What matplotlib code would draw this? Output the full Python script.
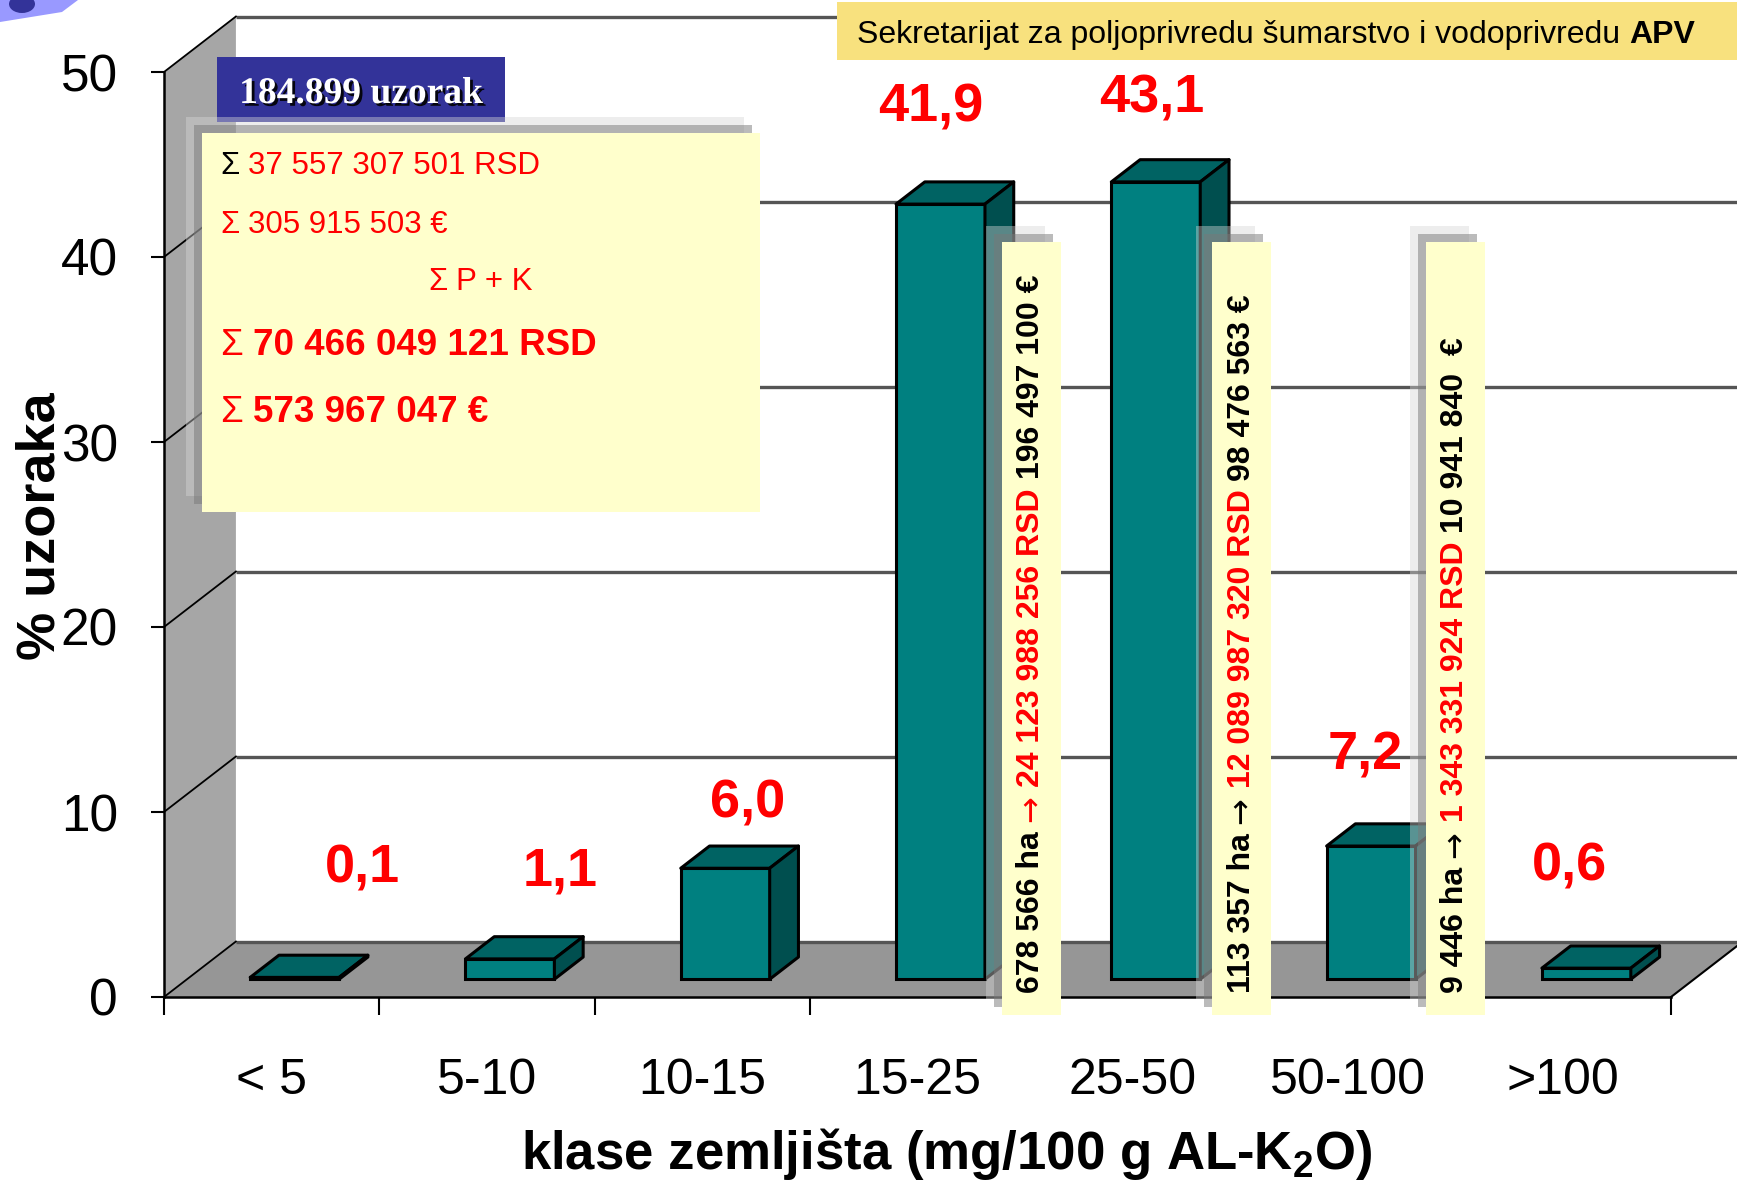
import numpy as np
import matplotlib.pyplot as plt
from matplotlib.patches import Polygon, Rectangle, Ellipse
from matplotlib.transforms import Affine2D, offset_copy
import matplotlib.patheffects as pe

plt.rcParams['font.family'] = ['Liberation Sans', 'DejaVu Sans']
plt.rcParams['mathtext.fontset'] = 'custom'
plt.rcParams['mathtext.rm'] = 'Liberation Sans:bold'
plt.rcParams['mathtext.default'] = 'rm'

# soil classes and share of samples (%)
categories = ['< 5', '5-10', '10-15', '15-25', '25-50', '50-100', '>100']
values = [0.1, 1.1, 6.0, 41.9, 43.1, 7.2, 0.6]

# value label anchors (data units, text baseline)
label_x = [0.92, 1.84, 2.71, 3.56, 4.59, 5.58, 6.53]
label_y = [6.2, 6.0, 9.7, 47.35, 47.8, 12.3, 6.3]

# area and fertiliser cost for three of the classes
note_x = [3.892, 4.868, 5.862]
note_area = ['678 566', '113 357', '9 446']
note_rsd = ['24 123 988 256', '12 089 987 320', '1 343 331 924']
note_eur = ['196 497 100', '98 476 563', '10 941 840 ']
arrow_color = ['red', 'black', 'black']

# totals box: (sigma colour, text, weight, size, x, baseline)
total_lines = [
    ('black', '37 557 307 501 RSD', 'normal', 22.5, 220, 174),
    ('red', '305 915 503 €', 'normal', 22.5, 220, 233),
    ('red', 'P + K', 'normal', 22.5, 428, 290),
    ('red', '70 466 049 121 RSD', 'bold', 26.5, 220, 355),
    ('red', '573 967 047 €', 'bold', 26.5, 220, 422),
]

W, H = 1737, 1180
fig = plt.figure(figsize=(W / 100, H / 100), dpi=100)
px = Affine2D().scale(1 / W, -1 / H).translate(0, 1) + fig.transFigure

x0, x7, y0, y50 = 164, 1671, 997, 72
ax = fig.add_axes([x0 / W, 1 - y0 / H, (x7 - x0) / W, (y0 - y50) / H])
ax.patch.set_visible(False)
for s in ax.spines.values():
    s.set_visible(False)

n = len(categories)
DX, DY = 0.334, 3.0      # depth of the chart box
D0, DD = 0.32, 0.40      # bar front position and bar depth (fraction of DX/DY)
BW = 0.413

# walls and floor
ax.add_patch(Rectangle((DX, DY), n, 50, facecolor='white', edgecolor='none',
                       zorder=0.5, clip_on=False))
ax.add_patch(Polygon([(0, 0), (DX, DY), (DX, 50 + DY), (0, 50)], closed=True,
                     facecolor='#a6a6a6', edgecolor='none', zorder=0.6, clip_on=False))
ax.add_patch(Polygon([(0, 0), (n, 0), (n + DX, DY), (DX, DY)], closed=True,
                     facecolor='#969696', edgecolor='none', zorder=0.7, clip_on=False))

yt = np.arange(0, 51, 10)
for t in yt:
    ax.plot([DX, n + DX], [t + DY, t + DY], color='#555555', lw=2.4, zorder=0.8,
            clip_on=False, solid_capstyle='butt')
    ax.plot([0, DX], [t, t + DY], color='black', lw=1.3, zorder=0.8, clip_on=False)

ax.plot([0, 0], [0, 50], color='black', lw=1.8, zorder=1, clip_on=False)
ax.plot([0, n], [0, 0], color='black', lw=1.8, zorder=1, clip_on=False)
ax.plot([n, n + DX], [0, DY], color='black', lw=1.5, zorder=1, clip_on=False)

# bars: front face via bar(), top and side faces from the same values
xs = np.arange(n) + 0.5
base = D0 * DY
front_x = xs + D0 * DX
ax.bar(front_x, values, width=BW, bottom=base, color='#008080',
       edgecolor='black', linewidth=2.2, zorder=3)
for xc, v in zip(front_x, values):
    xl, xr = xc - BW / 2, xc + BW / 2
    top = base + v
    ox, oy = DD * DX, DD * DY
    ax.add_patch(Polygon([(xl, top), (xr, top), (xr + ox, top + oy), (xl + ox, top + oy)],
                         closed=True, facecolor='#006363', edgecolor='black',
                         lw=2.2, zorder=3, joinstyle='round'))
    ax.add_patch(Polygon([(xr, base), (xr + ox, base + oy), (xr + ox, top + oy), (xr, top)],
                         closed=True, facecolor='#004f4f', edgecolor='black',
                         lw=2.2, zorder=3, joinstyle='round'))

for lx, ly, v in zip(label_x, label_y, values):
    ax.text(lx, ly, f'{v:.1f}'.replace('.', ','), color='red', fontsize=39,
            fontweight='bold', ha='center', va='baseline', zorder=5)

# axis ticks and labels
ax.set_yticks(yt)
ax.tick_params(axis='y', length=9.4, width=1.5, pad=23.8, labelsize=37)
ax.set_xticks(range(n + 1))
ax.set_xticklabels([])
ax.set_xticks(xs, minor=True)
ax.set_xticklabels(categories, minor=True)
ax.tick_params(axis='x', which='major', length=13, width=1.5)
ax.tick_params(axis='x', which='minor', length=0, pad=44, labelsize=36)

ax.text(55, 526, '% uzoraka', transform=px, rotation=90, rotation_mode='anchor',
        ha='center', va='baseline', fontsize=39, fontweight='bold')
ax.text(947, 1169, 'klase zemljišta (mg/100 g AL-K$_2$O)', transform=px,
        ha='center', va='baseline', fontsize=38, fontweight='bold')

# shadowed note strips next to the bars
sh1 = offset_copy(ax.transData, fig=fig, x=-16, y=16, units='dots')
sh2 = offset_copy(ax.transData, fig=fig, x=-8, y=8, units='dots')
gap = 0.278 * 23
for k in range(len(note_x)):
    xl = note_x[k]
    for tr, fc, a in [(sh1, '#d6d6d6', 0.42), (sh2, '#787878', 0.5)]:
        ax.add_patch(Rectangle((xl, -0.97), 0.274, 41.8, transform=tr, facecolor=fc,
                               alpha=a, edgecolor='none', zorder=6, clip_on=False))
    ax.add_patch(Rectangle((xl, -0.97), 0.274, 41.8, facecolor='#ffffcc',
                           edgecolor='none', zorder=6.5, clip_on=False))
    pieces = [(note_area[k] + ' ha', 'black', 'Liberation Sans', 'bold'),
              ('→', arrow_color[k], 'DejaVu Sans', 'normal'),
              (note_rsd[k] + ' RSD', 'red', 'Liberation Sans', 'bold'),
              (note_eur[k] + ' €', 'black', 'Liberation Sans', 'bold')]
    txt, col, fam, wt = pieces[0]
    prev = ax.text(xl + 0.137, 0.22, txt, rotation=90, ha='center', va='bottom',
                   color=col, fontsize=23, fontweight=wt, family=fam, zorder=7)
    for txt, col, fam, wt in pieces[1:]:
        prev = ax.annotate(txt, xy=(0.5, 1), xycoords=prev, xytext=(0, gap),
                           textcoords='offset points', rotation=90, ha='center',
                           va='bottom', color=col, fontsize=23, fontweight=wt,
                           family=fam, zorder=7, annotation_clip=False)

# sample count badge
ax.add_patch(Rectangle((217, 57), 288, 65, transform=px, facecolor='#333399',
                       edgecolor='none', zorder=8, clip_on=False))
ax.text(361, 103, '184.899 uzorak', transform=px, ha='center', va='baseline',
        color='white', fontsize=27, fontweight='bold', family='Liberation Serif',
        zorder=11, path_effects=[pe.withSimplePatchShadow(offset=(2, -2),
                                                          shadow_rgbFace='black',
                                                          alpha=0.9)])

# totals box with its shadow
for off, fc, a in [(16, '#d6d6d6', 0.42), (8, '#787878', 0.5)]:
    ax.add_patch(Rectangle((201.5 - off, 133.4 - off), 558.5, 378.6, transform=px,
                           facecolor=fc, alpha=a, edgecolor='none', zorder=9,
                           clip_on=False))
ax.add_patch(Rectangle((201.5, 133.4), 558.5, 378.6, transform=px, facecolor='#ffffcc',
                       edgecolor='none', zorder=9.5, clip_on=False))
for scol, txt, wt, fs, tx, ty in total_lines:
    sig = ax.text(tx, ty, 'Σ', transform=px, color=scol, fontsize=fs, ha='left',
                  va='baseline', zorder=10)
    ax.annotate(txt, xy=(1, 0), xycoords=sig, xytext=(0.278 * fs, 0),
                textcoords='offset points', ha='left', va='bottom', color='red',
                fontsize=fs, fontweight=wt, zorder=10, annotation_clip=False)

# header
ax.add_patch(Rectangle((837, 1.7), 900, 58.3, transform=px, facecolor='#f8e17e',
                       edgecolor='none', zorder=8, clip_on=False))
head = ax.text(857, 43, 'Sekretarijat za poljoprivredu šumarstvo i vodoprivredu',
               transform=px, fontsize=23, ha='left', va='baseline', zorder=10)
ax.annotate('APV', xy=(1, 0), xycoords=head, xytext=(0.278 * 23, 0),
            textcoords='offset points', ha='left', va='bottom', fontsize=23,
            fontweight='bold', zorder=10, annotation_clip=False)

# corner logo fragment
ax.add_patch(Polygon([(0, 0), (78, 0), (62, 12), (0, 22)], closed=True, transform=px,
                     facecolor='#9999ff', edgecolor='none', zorder=8, clip_on=False))
ax.add_patch(Ellipse((22, 4), 26, 18, transform=px, facecolor='#333399',
                     edgecolor='none', zorder=8, clip_on=False))

ax.set_xlim(0, n)
ax.set_ylim(0, 50)
fig.savefig('out.png', dpi=100)
